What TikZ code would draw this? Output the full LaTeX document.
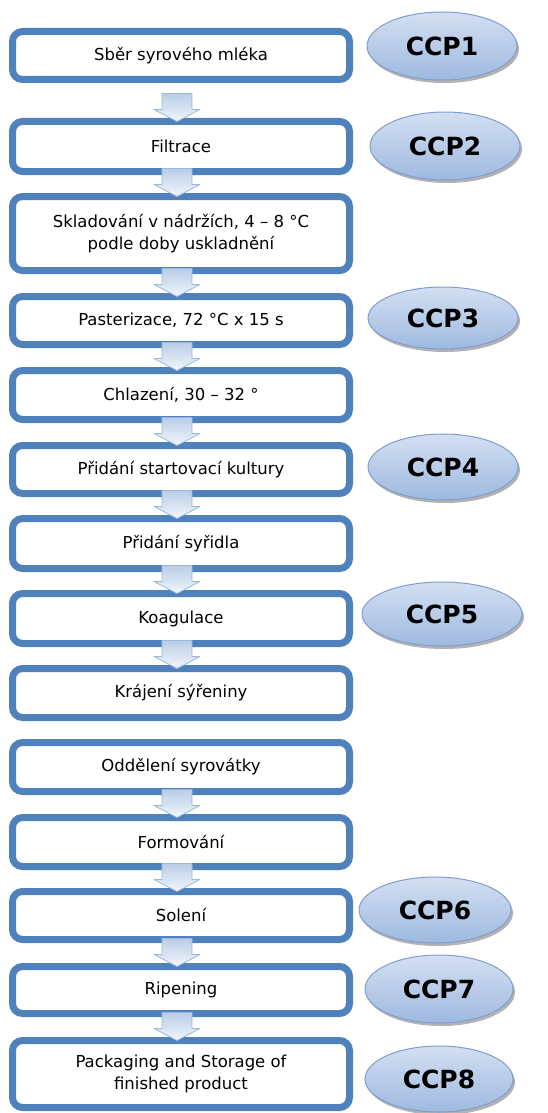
\documentclass[tikz,border=0pt]{standalone}
\usepackage{fontspec}
\setmainfont{DejaVu Sans}
\usetikzlibrary{shapes.geometric,shadows,calc}
\definecolor{boxblue}{HTML}{4F81BD}
\definecolor{ccptop}{HTML}{D3DFF2}
\definecolor{ccpbot}{HTML}{9EB9DF}
\definecolor{ccpedge}{HTML}{7F9ECC}
\definecolor{arrtop}{HTML}{B9CDE7}
\definecolor{arrbot}{HTML}{F3F7FC}
\definecolor{arredge}{HTML}{9BB7DB}
\tikzset{
  stepbox/.style={draw=boxblue, line width=7pt, rounded corners=10pt, fill=white,
    minimum width=337pt, inner sep=0pt, align=center,
    font=\fontsize{16.5}{22}\selectfont, text=black},
  ccp/.style={ellipse, inner sep=0pt, draw=ccpedge, line width=1pt,
    top color=ccptop, bottom color=ccpbot,
    drop shadow={shadow xshift=2pt, shadow yshift=-3pt, fill=black!55, opacity=0.55},
    font=\bfseries\fontsize{25}{28}\selectfont, text=black},
  flowarr/.style={draw=arredge, line width=0.8pt, top color=arrtop, bottom color=arrbot, line join=round}
}
\newcommand\flowarrow[2]{%
  \path (#1.south) coordinate (from-#1);
  \path (#2.north) ++(-4pt,-3.5pt) coordinate (tip-#2);
  \path[flowarr] (tip-#2) -- ++(23pt,12pt) -- ++(-8pt,0pt) -- ++(0pt,16pt)
    -- ++(-30pt,0pt) -- ++(0pt,-16pt) -- ++(-8pt,0pt) -- cycle;
}
\begin{document}
\begin{tikzpicture}[x=1pt,y=-1pt]
\useasboundingbox (0,0) rectangle (548,1113);
\node[stepbox, minimum height=48pt] (b1) at (181,55.5) {Sběr syrového mléka};
\node[stepbox, minimum height=50pt] (b2) at (181,146.5) {Filtrace};
\node[stepbox, minimum height=74pt] (b3) at (181,233.5) {Skladování v nádržích, 4 – 8 °C\\podle doby uskladnění};
\node[stepbox, minimum height=48pt] (b4) at (181,320.5) {Pasterizace, 72 °C x 15 s};
\node[stepbox, minimum height=49pt] (b5) at (181,395) {Chlazení, 30 – 32 °};
\node[stepbox, minimum height=48pt] (b6) at (181,469.5) {Přidání startovací kultury};
\node[stepbox, minimum height=50pt] (b7) at (181,543.5) {Přidání syřidla};
\node[stepbox, minimum height=50pt] (b8) at (181,618.5) {Koagulace};
\node[stepbox, minimum height=49pt] (b9) at (181,693) {Krájení sýřeniny};
\node[stepbox, minimum height=49pt] (b10) at (181,767) {Oddělení syrovátky};
\node[stepbox, minimum height=49pt] (b11) at (181,842) {Formování};
\node[stepbox, minimum height=48pt] (b12) at (181,915.5) {Solení};
\node[stepbox, minimum height=47pt] (b13) at (181,990) {Ripening};
\node[stepbox, minimum height=67pt] (b14) at (181,1074) {Packaging and Storage of\\finished product};

\flowarrow{b1}{b2}
\flowarrow{b2}{b3}
\flowarrow{b3}{b4}
\flowarrow{b4}{b5}
\flowarrow{b5}{b6}
\flowarrow{b6}{b7}
\flowarrow{b7}{b8}
\flowarrow{b8}{b9}
\flowarrow{b10}{b11}
\flowarrow{b11}{b12}
\flowarrow{b12}{b13}
\flowarrow{b13}{b14}

\node[ccp, minimum width=150pt, minimum height=68pt] (c1) at (442,46) {CCP1};
\node[ccp, minimum width=150pt, minimum height=68pt] (c2) at (445,146) {CCP2};
\node[ccp, minimum width=150pt, minimum height=62pt] (c3) at (443,318) {CCP3};
\node[ccp, minimum width=150pt, minimum height=66pt] (c4) at (443,467) {CCP4};
\node[ccp, minimum width=160pt, minimum height=64pt] (c5) at (442,614) {CCP5};
\node[ccp, minimum width=152pt, minimum height=66pt] (c6) at (435,910) {CCP6};
\node[ccp, minimum width=148pt, minimum height=68pt] (c7) at (439,989) {CCP7};
\node[ccp, minimum width=148pt, minimum height=66pt] (c8) at (439,1079) {CCP8};
\end{tikzpicture}
\end{document}
